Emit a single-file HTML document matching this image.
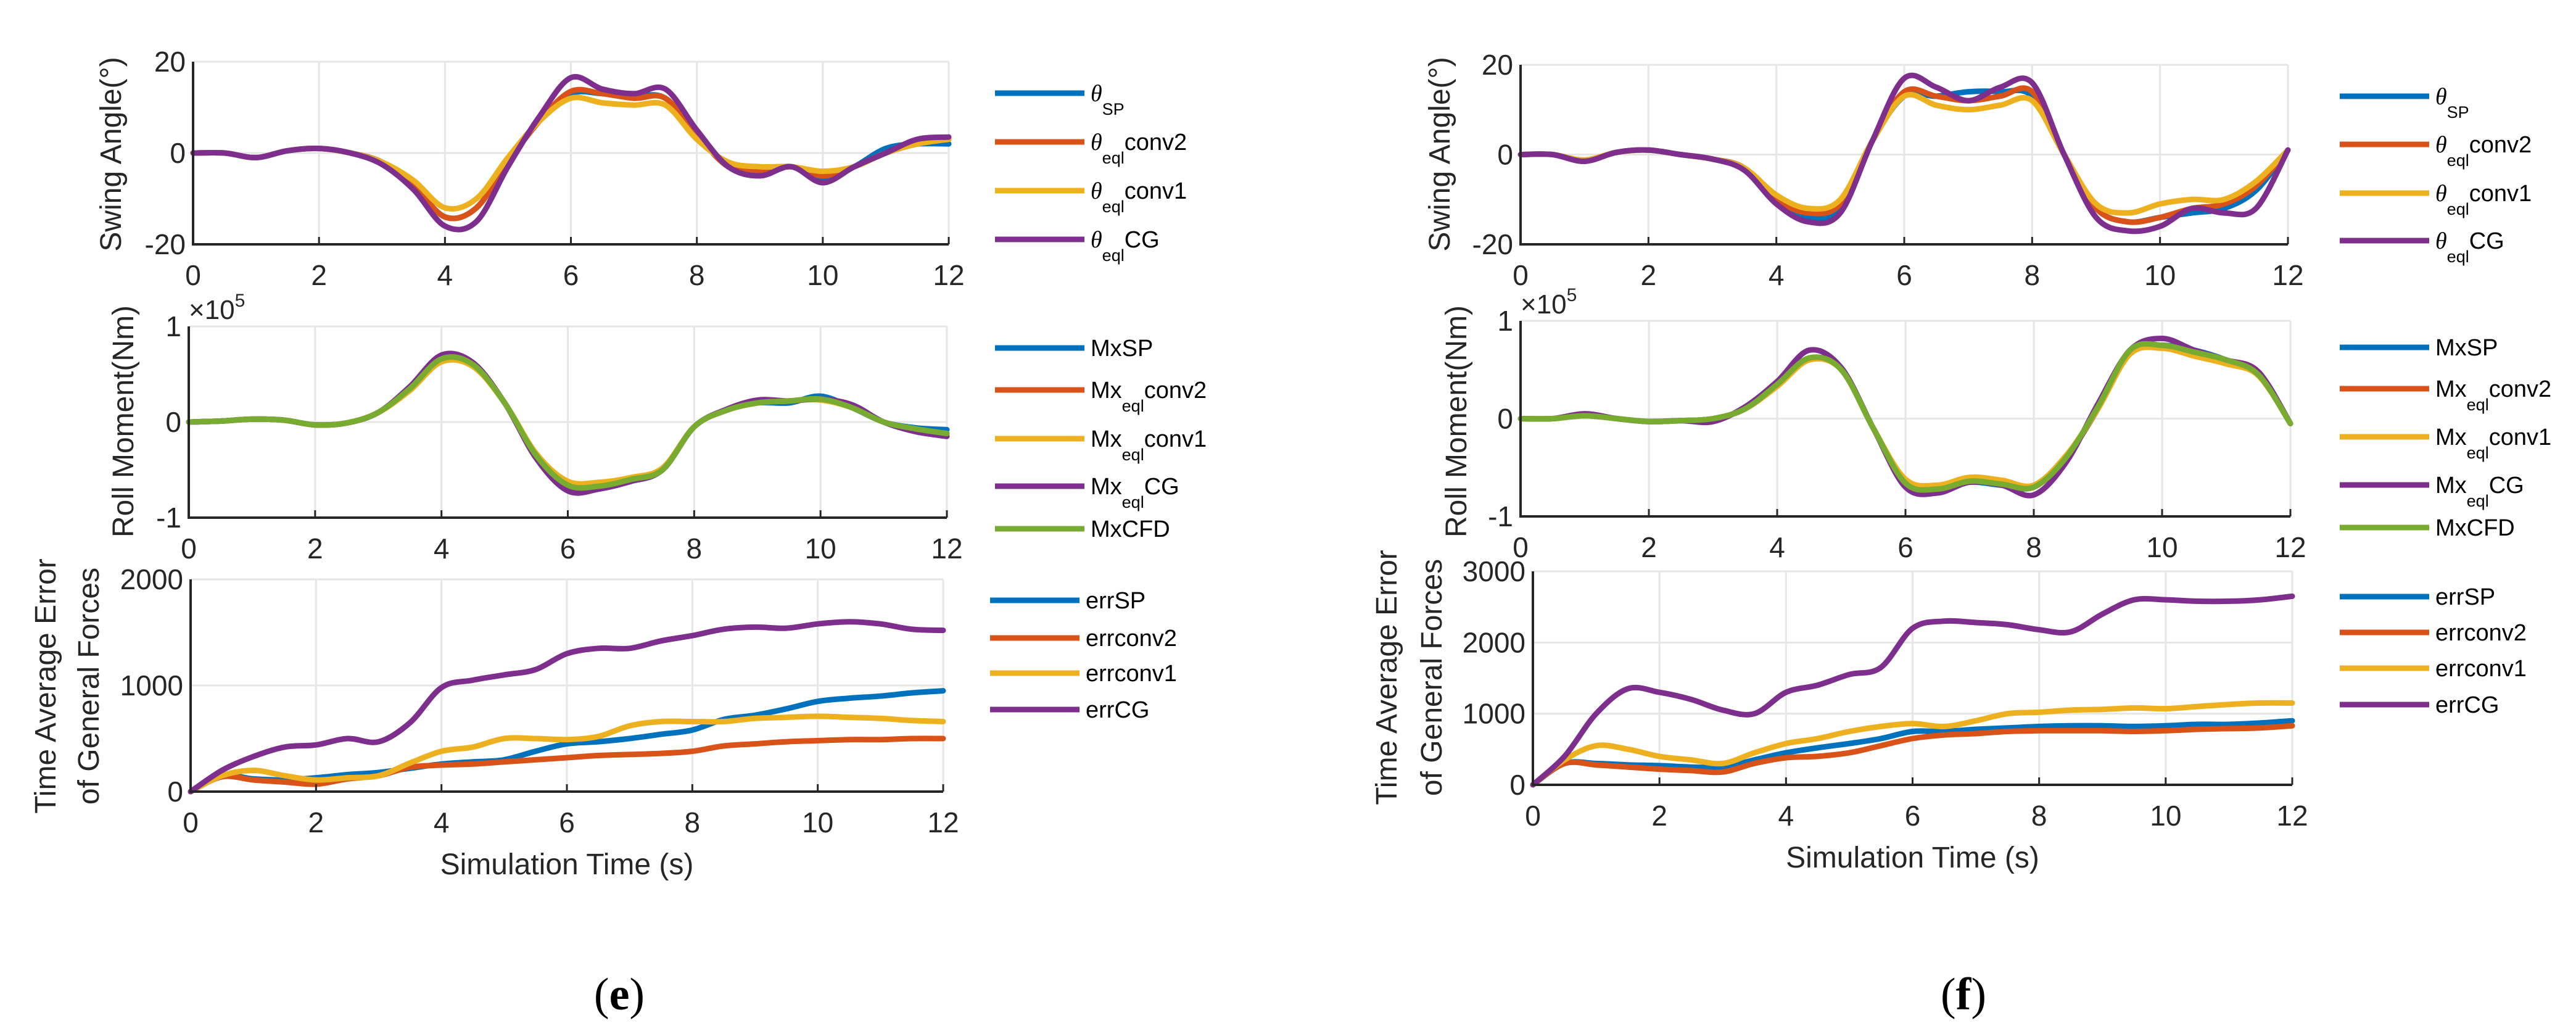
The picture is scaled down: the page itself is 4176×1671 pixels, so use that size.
<!DOCTYPE html>
<html><head><meta charset="utf-8"><style>
html,body{margin:0;padding:0;background:#fff;}
svg{display:block;font-family:"Liberation Sans",Arial,sans-serif;}
</style></head><body>
<svg id="fig" width="4176" height="1671" viewBox="0 0 4176 1671" xmlns="http://www.w3.org/2000/svg">
<text x="1004" y="1636" font-family="Liberation Serif,serif" font-size="74" text-anchor="middle">(<tspan font-weight="bold">e</tspan>)</text>
<text x="3183" y="1636" font-family="Liberation Serif,serif" font-size="74" text-anchor="middle">(<tspan font-weight="bold">f</tspan>)</text>
</svg>
<script>
const times = [0,0.5,1,1.5,2,2.5,3,3.5,4,4.5,5,5.5,6,6.5,7,7.5,8,8.5,9,9.5,10,10.5,11,11.5,12];
const xTicks = [0,2,4,6,8,10,12];
// left (e)
const eThSP   = [0,0,-1,0.5,1,0,-2,-7,-14,-12,-2,7,13,13,12.5,12,4,-3,-4,-3,-6,-3,1,2,2];
const eThC2   = [0,0,-1,0.5,1,0,-2,-7,-14,-12,-2,7,13.5,13,12,12,4,-3,-4,-3,-5,-3,0,2,3];
const eThC1   = [0,0,-1,0.5,1,0,-2,-6,-12,-10,-1,7,12,11,10.5,10.5,3,-2,-3,-3,-4,-3,0,2,3];
const eThCG   = [0,0,-1,0.5,1,0,-2.5,-8,-16,-15,-3,8,16.5,14,13,14,5,-3,-5,-3,-6.5,-3,0,3,3.5];
const eMxSP   = [0,0.01,0.03,0.02,-0.03,-0.01,0.1,0.35,0.66,0.6,0.2,-0.35,-0.65,-0.68,-0.62,-0.5,-0.05,0.12,0.2,0.2,0.27,0.15,0,-0.06,-0.08];
const eMxC2   = [0,0.01,0.03,0.02,-0.03,-0.01,0.1,0.35,0.65,0.6,0.2,-0.35,-0.64,-0.66,-0.6,-0.5,-0.05,0.12,0.2,0.22,0.24,0.15,0,-0.08,-0.12];
const eMxC1   = [0,0.01,0.03,0.02,-0.03,-0.01,0.1,0.33,0.63,0.58,0.2,-0.33,-0.62,-0.63,-0.58,-0.48,-0.05,0.12,0.2,0.22,0.23,0.15,0,-0.08,-0.12];
const eMxCG   = [0,0.01,0.03,0.02,-0.03,-0.01,0.1,0.37,0.7,0.62,0.2,-0.38,-0.72,-0.7,-0.62,-0.5,-0.05,0.13,0.23,0.22,0.24,0.18,0,-0.1,-0.15];
const eMxCFD  = [0,0.01,0.03,0.02,-0.03,-0.01,0.1,0.35,0.66,0.6,0.2,-0.35,-0.66,-0.67,-0.6,-0.5,-0.05,0.12,0.2,0.22,0.24,0.15,0,-0.07,-0.12];
const eErrSP  = [0,150,120,110,130,160,180,220,260,280,300,380,450,470,500,540,580,680,720,780,850,880,900,930,950];
const eErrC2  = [0,140,110,90,70,120,150,230,250,260,280,300,320,340,350,360,380,430,450,470,480,490,490,500,500];
const eErrC1  = [0,150,200,150,110,130,150,270,380,420,500,500,490,520,620,660,660,660,690,700,710,700,690,670,660];
const eErrCG  = [0,200,330,420,440,500,470,650,980,1050,1100,1150,1300,1350,1350,1420,1470,1530,1550,1540,1580,1600,1580,1530,1520];
// right (f)
const fThSP   = [0,0,-1.5,0.5,1,0,-1,-3,-10,-14,-12,3,13,13,14,14,13,0,-12,-15,-14,-13,-12,-8,1];
const fThC2   = [0,0,-1.5,0.5,1,0,-1,-3,-10,-13,-11,3,14,13,12,13,14,0,-12,-15,-14,-12,-11,-7,1];
const fThC1   = [0,0,-1.2,0.5,1,0,-1,-3,-9,-12,-10,3,13,11,10,11,12,0,-11,-13,-11,-10,-10,-6,1];
const fThCG   = [0,0,-1.5,0.5,1,0,-1,-3.5,-11,-15,-13,3,17,15,12,15,16,0,-14,-17,-16,-12,-13,-12,1];
const fMxSP   = [0,0,0.03,0,-0.03,-0.02,0,0.1,0.35,0.62,0.5,-0.1,-0.65,-0.72,-0.65,-0.68,-0.7,-0.4,0.1,0.7,0.75,0.7,0.6,0.45,-0.05];
const fMxC2   = [0,0,0.03,0,-0.03,-0.02,0,0.1,0.35,0.62,0.5,-0.1,-0.65,-0.7,-0.63,-0.66,-0.7,-0.4,0.1,0.68,0.74,0.66,0.58,0.45,-0.05];
const fMxC1   = [0,0,0.03,0,-0.03,-0.02,0,0.1,0.33,0.6,0.5,-0.1,-0.62,-0.68,-0.6,-0.63,-0.68,-0.38,0.1,0.66,0.72,0.64,0.56,0.44,-0.05];
const fMxCG   = [0,0,0.05,0,-0.03,-0.02,-0.03,0.12,0.38,0.7,0.52,-0.1,-0.7,-0.76,-0.65,-0.68,-0.78,-0.45,0.15,0.7,0.82,0.7,0.6,0.48,-0.05];
const fMxCFD  = [0,0,0.03,0,-0.03,-0.02,0,0.1,0.35,0.62,0.5,-0.1,-0.66,-0.72,-0.64,-0.67,-0.7,-0.4,0.12,0.7,0.75,0.68,0.6,0.45,-0.05];
const fErrSP  = [0,300,300,280,270,250,250,350,450,520,580,650,750,750,780,800,820,830,830,820,830,850,850,870,900];
const fErrC2  = [0,300,280,250,220,200,180,300,380,400,450,550,650,700,720,750,760,760,760,750,760,780,790,800,830];
const fErrC1  = [0,350,550,500,400,350,300,450,580,650,750,820,860,820,900,1000,1020,1050,1060,1080,1070,1100,1130,1150,1150];
const fErrCG  = [0,400,1000,1350,1300,1200,1050,1000,1300,1400,1550,1650,2200,2300,2280,2250,2180,2150,2400,2600,2600,2580,2580,2600,2650];

const C = {b:'#0072BD',o:'#D95319',y:'#EDB120',p:'#7E2F8E',g:'#77AC30'};
const NS='http://www.w3.org/2000/svg';
const svg=document.getElementById('fig');
function mk(tag,attrs,parent){const e=document.createElementNS(NS,tag);for(const k in attrs)e.setAttribute(k,attrs[k]);(parent||svg).appendChild(e);return e;}

function smoothPath(pts){
  let d='M'+pts[0][0]+','+pts[0][1];
  for(let i=0;i<pts.length-1;i++){
    const p0=pts[Math.max(0,i-1)],p1=pts[i],p2=pts[i+1],p3=pts[Math.min(pts.length-1,i+2)];
    const c1=[p1[0]+(p2[0]-p0[0])/6,p1[1]+(p2[1]-p0[1])/6];
    const c2=[p2[0]-(p3[0]-p1[0])/6,p2[1]-(p3[1]-p1[1])/6];
    d+=' C'+c1[0].toFixed(1)+','+c1[1].toFixed(1)+' '+c2[0].toFixed(1)+','+c2[1].toFixed(1)+' '+p2[0].toFixed(1)+','+p2[1].toFixed(1);
  }
  return d;
}

function drawPanel(cfg){
  const g=mk('g',{});
  
  
  const xs=v=>cfg.x0+(v-0)/12*(cfg.x1-cfg.x0);
  const ys=v=>cfg.yb-(v-cfg.ymin)/(cfg.ymax-cfg.ymin)*(cfg.yb-cfg.yt);
  // grid
  xTicks.forEach(t=>{const l=mk('line',{x1:xs(t),x2:xs(t),y1:cfg.yt,y2:cfg.yb,stroke:'#e6e6e6','stroke-width':3},g);
    });
  cfg.yTicks.forEach(t=>{const l=mk('line',{x1:cfg.x0,x2:cfg.x1,y1:ys(t),y2:ys(t),stroke:'#e6e6e6','stroke-width':3},g);
    });
  // series
  cfg.series.forEach(s=>{
    const pts=times.map((t,i)=>[xs(t),ys(s.v[i])]);
    const p=mk('path',{d:smoothPath(pts),fill:'none',stroke:s.c,'stroke-width':9,'stroke-linejoin':'round','stroke-linecap':'round'},g);
    
    
  });
  // axes
  const ax=mk('path',{d:`M${cfg.x0},${cfg.yt} L${cfg.x0},${cfg.yb} L${cfg.x1},${cfg.yb}`,fill:'none',stroke:'#262626','stroke-width':4},g);
  
  xTicks.forEach(t=>{
    mk('line',{x1:xs(t),x2:xs(t),y1:cfg.yb,y2:cfg.yb-12,stroke:'#262626','stroke-width':3},g);
    const tx=mk('text',{x:xs(t),y:cfg.yb+66,'font-size':46,'text-anchor':'middle',fill:'#262626'},g);
    tx.textContent=t;
    
  });
  cfg.yTicks.forEach((t,i)=>{
    const tx=mk('text',{x:cfg.x0-12,y:ys(t)+16,'font-size':46,'text-anchor':'end',fill:'#262626'},g);
    tx.textContent=cfg.yLabels[i];
    
  });
  // y label(s)
  cfg.ylab.forEach(l=>{
    const tx=mk('text',{x:0,y:0,'font-size':48,'text-anchor':'middle',fill:'#262626',transform:`translate(${l.x},${l.y}) rotate(-90)`},g);
    tx.textContent=l.t;
    
  });
  if(cfg.exp){
    const tx=mk('text',{x:cfg.x0,y:cfg.yt-12,'font-size':44,fill:'#262626'},g);
    tx.innerHTML='×10<tspan font-size="30" dy="-20">5</tspan>';
    
  }
  if(cfg.xlab){
    const tx=mk('text',{x:(cfg.x0+cfg.x1)/2,y:cfg.yb+134,'font-size':48,'text-anchor':'middle',fill:'#262626'},g);
    tx.textContent='Simulation Time (s)';
    
  }
  // legend
  const lg=mk('g',{},g);
  
  cfg.series.forEach((s,i)=>{
    const y=cfg.legY[i];
    const e=mk('g',{},lg);
    
    
    mk('line',{x1:cfg.legX,x2:cfg.legX+145,y1:y,y2:y,stroke:s.c,'stroke-width':9},e);
    const tx=mk('text',{x:cfg.legX+155,y:y+13,'font-size':38,fill:'#000'},e);
    tx.innerHTML=s.lab;
  });
}
const TH=(sub,rest)=>`<tspan font-family="Liberation Serif,serif" font-style="italic">θ</tspan><tspan font-size="27" dy="22">${sub}</tspan><tspan dy="-22">${rest}</tspan>`;
const MX=(rest)=>`Mx<tspan font-size="27" dy="22">eql</tspan><tspan dy="-22">${rest}</tspan>`;

function build(side,o){
  const P=side==='e'?{th:[eThSP,eThC2,eThC1,eThCG],mx:[eMxSP,eMxC2,eMxC1,eMxCG,eMxCFD],er:[eErrSP,eErrC2,eErrC1,eErrCG]}
                    :{th:[fThSP,fThC2,fThC1,fThCG],mx:[fMxSP,fMxC2,fMxC1,fMxCG,fMxCFD],er:[fErrSP,fErrC2,fErrC1,fErrCG]};
  drawPanel(Object.assign({name:side+'-swing-angle-plot',ymin:-20,ymax:20,yTicks:[-20,0,20],yLabels:['-20','0','20'],
    ylab:[{t:'Swing Angle(°)',x:o.sx,y:250}],
    series:[{id:'theta-sp-line',c:C.b,v:P.th[0],lab:TH('SP','')},{id:'theta-conv2-line',c:C.o,v:P.th[1],lab:TH('eql','conv2')},
            {id:'theta-conv1-line',c:C.y,v:P.th[2],lab:TH('eql','conv1')},{id:'theta-cg-line',c:C.p,v:P.th[3],lab:TH('eql','CG')}]},o.top));
  drawPanel(Object.assign({name:side+'-roll-moment-plot',ymin:-1,ymax:1,yTicks:[-1,0,1],yLabels:['-1','0','1'],exp:true,
    ylab:[{t:'Roll Moment(Nm)',x:o.rx,y:683}],
    series:[{id:'mx-sp-line',c:C.b,v:P.mx[0],lab:'MxSP'},{id:'mx-conv2-line',c:C.o,v:P.mx[1],lab:MX('conv2')},
            {id:'mx-conv1-line',c:C.y,v:P.mx[2],lab:MX('conv1')},{id:'mx-cg-line',c:C.p,v:P.mx[3],lab:MX('CG')},
            {id:'mx-cfd-line',c:C.g,v:P.mx[4],lab:'MxCFD'}]},o.mid));
  drawPanel(Object.assign({name:side+'-error-plot',ymin:0,xlab:true,
    ylab:[{t:'Time Average Error',x:o.ex1,y:o.ey},{t:'of General Forces',x:o.ex2,y:o.ey}],
    series:[{id:'err-sp-line',c:C.b,v:P.er[0],lab:'errSP'},{id:'err-conv2-line',c:C.o,v:P.er[1],lab:'errconv2'},
            {id:'err-conv1-line',c:C.y,v:P.er[2],lab:'errconv1'},{id:'err-cg-line',c:C.p,v:P.er[3],lab:'errCG'}]},o.bot));
}
build('e',{sx:196,rx:216,ex1:90,ex2:160,ey:1112,
  top:{x0:313,x1:1538,yt:100,yb:396,legX:1613,legY:[151,230,309,388]},
  mid:{x0:306,x1:1535,yt:529,yb:839,legX:1613,legY:[564,632,711,788,857]},
  bot:{x0:309,x1:1529,yt:939,yb:1283,ymax:2000,yTicks:[0,1000,2000],yLabels:['0','1000','2000'],legX:1605,legY:[973,1034,1091,1150]}});
build('f',{sx:2350,rx:2377,ex1:2264,ex2:2337,ey:1098,
  top:{x0:2465,x1:3709,yt:105,yb:396,legX:3793,legY:[156,234,313,390]},
  mid:{x0:2465,x1:3713,yt:520,yb:837,legX:3793,legY:[563,630,708,786,855]},
  bot:{x0:2485,x1:3716,yt:926,yb:1272,ymax:3000,yTicks:[0,1000,2000,3000],yLabels:['0','1000','2000','3000'],legX:3793,legY:[967,1025,1083,1142]}});
</script>
</body></html>
